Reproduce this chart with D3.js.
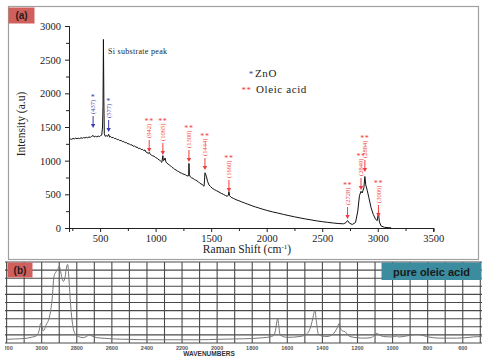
<!DOCTYPE html>
<html>
<head>
<meta charset="utf-8">
<script src="https://cdn.jsdelivr.net/npm/d3@7"></script>
<style>
  body { margin: 0; background: #fff; }
  svg { display: block; }
  .serif { font-family: "Liberation Serif", "DejaVu Serif", serif; }
</style>
</head>
<body>
<script>
// Panel (a): Raman spectrum, [shift, intensity]
const ramanSpectrum = [
  [220,1310],[232,1322],[244,1316],[256,1330],[268,1324],[280,1336],[292,1326],[304,1334],[316,1328],[328,1340],
  [340,1332],[352,1344],[364,1336],[376,1348],[388,1340],[400,1352],[412,1346],[424,1360],[437,1375],[446,1352],
  [458,1362],[470,1354],[482,1366],[494,1358],[505,1372],[515,1380],[522,1500],[526,1800],[530,2800],[534,1900],
  [538,1400],[546,1362],[556,1372],[566,1360],[577,1392],[586,1350],[596,1358],[606,1340],[618,1346],[630,1326],
  [642,1332],[654,1310],[666,1316],[678,1296],[690,1302],[702,1280],[714,1286],[726,1264],[738,1270],[750,1248],
  [762,1252],[774,1232],[786,1236],[798,1214],[810,1220],[822,1198],[834,1202],[846,1180],[858,1186],[870,1164],
  [882,1168],[894,1148],[904,1160],[912,1130],[924,1120],[934,1105],[942,1125],[950,1100],[962,1082],[974,1072],
  [986,1066],[998,1048],[1010,1040],[1022,1020],[1034,1012],[1046,990],[1056,975],[1065,1075],[1070,1000],[1078,1010],
  [1085,1040],[1092,985],[1100,965],[1112,950],[1124,935],[1136,920],[1148,900],[1160,888],[1172,870],[1184,862],
  [1196,845],[1208,838],[1220,822],[1232,815],[1244,805],[1256,798],[1268,790],[1280,778],[1292,770],[1298,800],
  [1300,960],[1304,790],[1312,760],[1324,745],[1336,738],[1348,720],[1360,712],[1372,700],[1384,688],[1396,668],
  [1408,655],[1418,648],[1428,632],[1436,620],[1440,700],[1444,820],[1450,800],[1458,760],[1468,690],[1480,640],
  [1495,615],[1510,590],[1530,570],[1550,552],[1570,535],[1590,515],[1610,500],[1630,482],[1645,470],[1655,490],
  [1660,540],[1666,480],[1680,455],[1700,440],[1725,420],[1750,405],[1775,388],[1800,372],[1825,356],[1850,342],
  [1875,326],[1900,312],[1925,300],[1950,286],[1975,274],[2000,262],[2050,240],[2100,222],[2150,202],[2200,184],
  [2250,166],[2300,150],[2350,134],[2400,120],[2450,106],[2500,94],[2550,84],[2600,74],[2650,66],[2690,62],
  [2710,75],[2728,110],[2745,72],[2770,52],[2800,82],[2820,250],[2835,480],[2849,545],[2860,520],[2875,600],
  [2884,765],[2892,640],[2905,560],[2920,450],[2940,300],[2960,200],[2980,130],[2995,110],[3006,230],[3015,90],
  [3030,30],[3060,10],[3100,5],[3120,3]
];

const peakPositions = [437,577,942,1065,1300,1444,1660,2728,2849,2884,3006];
const peakLabels = ["(437)","(577)","(942)","(1065)","(1300)","(1444)","(1660)","(2728)","(2849)","(2884)","(3006)"];
const peakTips = [1485,1426,1129,1084,980,861,535,134,564,832,163];
const peakGroups = ["ZnO","ZnO","Oleic","Oleic","Oleic","Oleic","Oleic","Oleic","Oleic","Oleic","Oleic"];

const xTicksA = [500,1000,1500,2000,2500,3000,3500];
const yTicksA = [0,500,1000,1500,2000,2500,3000];

// Panel (b): pure oleic acid IR spectrum
const irWavenumber = [3200,3150,3100,3060,3030,3015,3006,2998,2991,2975,2953,2940,2930,2918,2908,2900,2892,2877,2866,2858,2852,2845,2835,2820,2805,2791,2763,2745,2729,2712,2686,2640,2592,2500,2400,2300,2200,2100,2000,1900,1800,1740,1700,1680,1668,1660,1655,1650,1641,1600,1528,1490,1470,1455,1447,1442,1435,1423,1400,1375,1345,1328,1315,1305,1295,1285,1271,1255,1243,1200,1167,1124,1105,1090,1075,1053,1000,977,965,940,900,875,853,830,805,730,636,560,540,492];
const irValue = [4.5,5,5.5,7,9,15,24,20,15,22,35,55,82,88,91,95,88,76,82,94,97,80,47,18,10,8,6.6,8,10,8.5,6.6,5.8,5,4.5,4,4,4,4,4.5,5,5.5,6.5,7.5,9,15,26,30,24,10,7,8,11,18,30,38,40,28,11,8.5,8,10,14,19,24,17,15,14,10,8,6.5,6,6.6,9,12,10,8,7.5,8.5,7.5,8,9.5,10.5,10.5,9.5,8,6,6,7,7.5,8];
const xTicksB = [3200,3000,2800,2600,2400,2200,2000,1800,1600,1400,1200,1000,800,600];

const W = 487, H = 363;
const svg = d3.select("body").append("svg").attr("width", W).attr("height", H);

const blue = "#3b3bb0", red = "#f03c3c";

// ---------- panel (a) ----------
svg.append("rect").attr("x", 8.5).attr("y", 6.5).attr("width", 470).attr("height", 253)
  .attr("fill", "#fff").attr("stroke", "#a0a0a0").attr("stroke-width", 1.2);

const xA = d3.scaleLinear().domain([220, 3500]).range([69, 433.3]);
const yA = d3.scaleLinear().domain([0, 3000]).range([228, 26]);

svg.append("g").attr("transform", "translate(0,228)")
  .call(d3.axisBottom(xA).tickValues(xTicksA).tickSize(4).tickPadding(3).tickFormat(d3.format("d")));
svg.append("g").attr("transform", "translate(0,228)")
  .call(d3.axisBottom(xA).tickValues(d3.range(250, 3500, 500)).tickSize(3).tickFormat(""));
svg.append("g").attr("transform", "translate(69,0)")
  .call(d3.axisLeft(yA).tickValues(yTicksA).tickSize(4).tickPadding(4).tickFormat(d3.format("d")));
svg.append("g").attr("transform", "translate(69,0)")
  .call(d3.axisLeft(yA).tickValues(d3.range(250, 3000, 500)).tickSize(3).tickFormat(""));
svg.selectAll(".domain, .tick line").attr("stroke", "#222").attr("stroke-width", 1);
svg.selectAll(".tick text").attr("font-size", 10.5).attr("fill", "#1a1a1a")
  .attr("font-family", "Liberation Serif, serif");

const lineA = d3.line().x(d => xA(d[0])).y(d => yA(d[1]));
svg.append("path").datum(ramanSpectrum)
  .attr("d", lineA).attr("fill", "none").attr("stroke", "#111").attr("stroke-width", 1);

// axis titles
svg.append("text").attr("class", "serif").attr("x", 247).attr("y", 253)
  .attr("text-anchor", "middle").attr("font-size", 11.5).attr("fill", "#222")
  .html('Raman Shift (cm<tspan dy="-4" font-size="7">-1</tspan><tspan dy="4">)</tspan>');
svg.append("text").attr("class", "serif").attr("transform", "translate(25,124) rotate(-90)")
  .attr("text-anchor", "middle").attr("font-size", 11.5).attr("fill", "#222").text("Intensity (a.u)");

svg.append("text").attr("class", "serif").attr("x", 108).attr("y", 54)
  .attr("font-size", 8).attr("letter-spacing", 0.3).attr("fill", "#222").text("Si substrate peak");

// legend
svg.append("text").attr("class", "serif").attr("x", 251).attr("y", 77).attr("text-anchor", "middle")
  .attr("font-size", 9).attr("fill", blue).text("*");
svg.append("text").attr("class", "serif").attr("x", 255).attr("y", 76.5)
  .attr("font-size", 11).attr("letter-spacing", 0.6).attr("fill", "#222").text("ZnO");
svg.append("text").attr("class", "serif").attr("x", 246.5).attr("y", 93).attr("text-anchor", "middle")
  .attr("font-size", 9).attr("letter-spacing", 0.5).attr("fill", red).text("**");
svg.append("text").attr("class", "serif").attr("x", 256).attr("y", 92.5)
  .attr("font-size", 11).attr("letter-spacing", 0.6).attr("fill", "#222").text("Oleic acid");

// peak annotations
peakPositions.forEach((p, i) => {
  const c = peakGroups[i] === "ZnO" ? blue : red;
  const px = xA(p), tip = yA(peakTips[i]);
  const g = svg.append("g");
  g.append("line").attr("x1", px).attr("x2", px).attr("y1", tip - 12).attr("y2", tip - 3)
    .attr("stroke", c).attr("stroke-width", 1);
  g.append("path").attr("d", `M${px - 2.2},${tip - 4}L${px + 2.2},${tip - 4}L${px},${tip}Z`).attr("fill", c);
  const t = g.append("text").attr("class", "serif")
    .attr("transform", `translate(${px},${tip - 14}) rotate(-90)`)
    .attr("dy", "0.35em").attr("font-size", 6.5).attr("fill", c).text(peakLabels[i]);
  const len = t.node().getComputedTextLength();
  g.append("text").attr("class", "serif").attr("x", px).attr("y", tip - 14 - len + 0.5)
    .attr("text-anchor", "middle").attr("font-size", 8).attr("letter-spacing", 0.6)
    .attr("fill", c).text(peakGroups[i] === "ZnO" ? "*" : "**");
});

svg.append("rect").attr("x", 8.5).attr("y", 7.5).attr("width", 26).attr("height", 16).attr("fill", "#d0605c");
svg.append("text").attr("x", 21.5).attr("y", 19).attr("text-anchor", "middle")
  .attr("font-family", "Liberation Sans, Arial, sans-serif").attr("font-weight", "bold")
  .attr("font-size", 10).attr("fill", "#2a1a1a").text("(a)");

// ---------- panel (b) ----------
const xB = d3.scaleLinear().domain([3200, 492]).range([6.6, 481.7]);
const yB = d3.scaleLinear().domain([0, 100]).range([343, 262]);

svg.append("clipPath").attr("id", "clipB").append("rect")
  .attr("x", 5).attr("y", 255).attr("width", 478).attr("height", 108);
const gb = svg.append("g").attr("clip-path", "url(#clipB)");

gb.append("g").selectAll("line").data(d3.range(3200, 490, -100)).join("line")
  .attr("x1", d => xB(d)).attr("x2", d => xB(d)).attr("y1", yB(100)).attr("y2", yB(0))
  .attr("stroke", "#4a4a4a").attr("stroke-width", 1.1);
gb.append("g").selectAll("line").data(d3.range(0, 101, 10)).join("line")
  .attr("x1", 5).attr("x2", 482).attr("y1", d => yB(d)).attr("y2", d => yB(d))
  .attr("stroke", "#4a4a4a").attr("stroke-width", 1.1);

const lineB = d3.line().x(d => xB(d[0])).y(d => yB(d[1])).curve(d3.curveMonotoneX);
gb.append("path").datum(d3.zip(irWavenumber, irValue))
  .attr("d", lineB).attr("fill", "none").attr("stroke", "#777").attr("stroke-width", 1);

gb.append("g").selectAll("text").data(xTicksB).join("text")
  .attr("x", d => xB(d)).attr("y", 350).attr("text-anchor", "middle")
  .attr("font-family", "Liberation Sans, Arial, sans-serif").attr("font-size", 5.5)
  .attr("font-weight", "bold").attr("fill", "#555").text(d => d);

svg.append("text").attr("x", 209).attr("y", 356).attr("text-anchor", "middle")
  .attr("font-family", "Liberation Sans, Arial, sans-serif").attr("font-weight", "bold")
  .attr("font-size", 6.5).attr("fill", "#333").text("WAVENUMBERS");

svg.append("rect").attr("x", 7.5).attr("y", 262.5).attr("width", 25).attr("height", 15).attr("fill", "#d0605c");
svg.append("text").attr("x", 20).attr("y", 273.5).attr("text-anchor", "middle")
  .attr("font-family", "Liberation Sans, Arial, sans-serif").attr("font-weight", "bold")
  .attr("font-size", 10).attr("fill", "#2a1a1a").text("(b)");

svg.append("rect").attr("x", 381.5).attr("y", 262.5).attr("width", 100).attr("height", 17.5).attr("fill", "#3a8c9e");
svg.append("text").attr("x", 431.5).attr("y", 275.5).attr("text-anchor", "middle")
  .attr("font-family", "Liberation Sans, Arial, sans-serif").attr("font-weight", "bold")
  .attr("font-size", 11).attr("fill", "#1a1a1a").text("pure oleic acid");
</script>
</body>
</html>
